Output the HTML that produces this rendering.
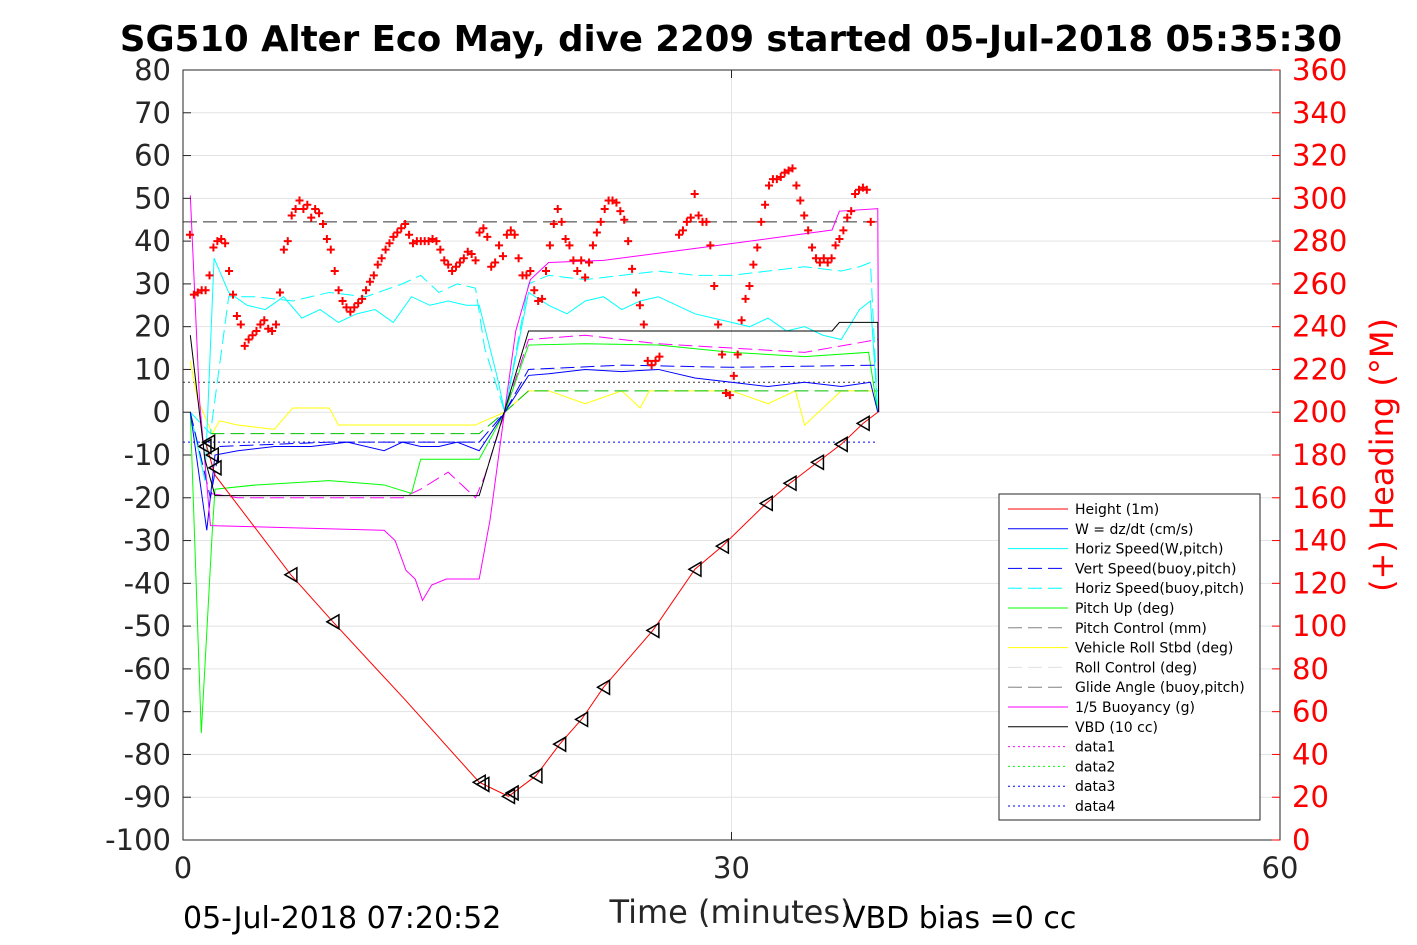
<!DOCTYPE html>
<html><head><meta charset="utf-8">
<style>
html,body{margin:0;padding:0;background:#fff;}
svg{display:block;font-family:"Liberation Sans","DejaVu Sans",sans-serif;}
</style></head>
<body>
<svg id="chart" width="1417" height="945" viewBox="0 0 1417 945" xmlns="http://www.w3.org/2000/svg">
<text x="731" y="51" text-anchor="middle" font-size="35.5" font-weight="bold" font-family="DejaVu Sans, sans-serif">SG510 Alter Eco May, dive 2209 started 05-Jul-2018 05:35:30</text>
<g id="grid"></g>
<g id="series"></g>
<rect x="183" y="70" width="1097" height="770" fill="none" stroke="#262626" stroke-width="1"/>
<g id="axes"></g>
<text x="731" y="923" text-anchor="middle" font-size="32" fill="#262626" font-family="DejaVu Sans, sans-serif">Time (minutes)</text>
<text x="183" y="928" font-size="30" fill="#000" font-family="DejaVu Sans, sans-serif">05-Jul-2018 07:20:52</text>
<text x="845" y="928" font-size="30" fill="#000" font-family="DejaVu Sans, sans-serif">VBD bias =0 cc</text>
<text transform="translate(1393,455) rotate(-90)" text-anchor="middle" font-size="32" fill="#ff0000" font-family="DejaVu Sans, sans-serif">(+) Heading (°M)</text>
<g id="legend"></g>
</svg>
<script>
// ---- data ----
const xTicks = [0, 30, 60];
const yTicks = [80,70,60,50,40,30,20,10,0,-10,-20,-30,-40,-50,-60,-70,-80,-90,-100];
const rTicks = [0,20,40,60,80,100,120,140,160,180,200,220,240,260,280,300,320,340,360];

const heightT = [1.2,1.75,5.9,8.2,12.1,16.2,17.8,19.3,20.6,21.8,23,25.7,28,29.5,31.9,33.2,34.7,36,37.2,38];
const heightV = [-6.5,-14.7,-38,-49,-67,-86.5,-89.8,-85,-77.6,-71.8,-64.3,-51,-36.7,-31.3,-21.3,-16.6,-11.7,-7.5,-2.6,0];
const markT = [1.2,1.4,1.6,1.75,5.9,8.2,16.2,16.4,17.8,18.0,19.3,20.6,21.8,23,25.7,28,29.5,31.9,33.2,34.7,36,37.2];
const markV = [-8,-7,-10,-13,-38,-49,-86.5,-87,-89.8,-89,-85,-77.6,-71.8,-64.3,-51,-36.7,-31.3,-21.3,-16.6,-11.7,-7.5,-2.6];

const headStart = 0.38, headStep = 0.214;
const headingV = [283,255,256,257,257,264,277,280,281,279,266,255,245,241,231,234,236,238,241,243,239,238,241,256,276,280,292,295,299,295,297,291,295,293,288,281,276,266,257,252,249,247,249,251,253,257,261,264,269,272,276,279,282,284,286,288,283,279,280,280,280,280,281,280,276,271,269,266,268,270,272,275,274,271,284,286,282,268,270,278,273,283,285,283,272,264,264,266,257,252,253,266,278,288,295,289,281,278,271,266,271,263,270,278,284,289,295,299,299,298,294,290,280,267,256,250,241,224,222,224,226,null,null,null,null,283,285,289,291,302,292,289,289,278,259,241,227,209,208,217,227,243,253,259,269,277,289,297,306,309,309,310,312,313,314,306,299,292,285,277,272,270,272,270,272,278,281,285,291,294,302,304,305,304,289];

const buoyT = [0.4,0.9,1.5,11,11.6,12.2,12.7,13.1,13.6,14.4,16.2,16.8,17.6,18.2,19,20,23,28.4,35.5,35.9,38,38.05];
const buoyV = [50.7,3,-26.5,-27.6,-30,-37,-39,-44,-40.4,-39,-39,-25,0.5,19,31,35,35.5,38.5,42.6,47,47.6,0];

const vbdT = [0.4,1.2,1.75,16.2,18.9,35.5,35.9,38,38.05];
const vbdV = [18,-11,-19.5,-19.5,19,19,21,21,0];

const hspdT = [0.4,1.2,1.7,2.5,3.5,4.5,5.5,6.5,7.5,8.5,9.5,10.5,11.5,12.5,13.5,14.5,15.5,16.2,17.2,17.6,18.9,20,21,22,23,24,25,26,27,28,29,30,31,32,33,34,35,36,37,37.6,38];
const hspdV = [0,-16,36,28,25,24,27,22,24,21,23,24,21,27,25,26,25,25,8,0,28,25,23,26,27,24,26,27,25,23,22,21,20,22,19,20,18,17,24,26,0];

const hspdBT = [0.4,1.5,2.5,4,6,8,10,12,13,14,15,16,16.5,17.6,18.9,20,22,24,26,28,30,32,34,36,37,37.6,38];
const hspdBV = [0,-5,27,27,26,28,27,30,32,28,30,29,15,0,30,32,31,32,33,32,32,33,34,33,34,35,0];

const wT = [0.4,1.3,1.75,3,5,7,9,11,12,13,14,15,16.2,17.6,18.9,20,22,24,26,28,30,32,34,36,37.6,38];
const wV = [0,-27.6,-10,-9,-8,-8,-7,-9,-7,-8,-8,-7,-9,0,8.6,9,10,9.5,10,8,7,6,7,6,7,0];

const wBT = [0.4,1.5,2,8,14,16.2,17.6,18.9,24,30,38];
const wBV = [0,-20,-8,-7,-7,-7,0,10,11,10.5,11];

const pitchT = [0.4,1,1.6,1.75,4,8,11,12.5,13,15,16.2,17.6,18.9,22,26,30,34,37.5,38];
const pitchV = [0,-75,-28,-18,-17,-16,-17,-19,-11,-11,-11,0,15.7,16,15.7,14,13,14,0];

const pitchCT = [1.5,16.2,17.6,18.9,38];
const pitchCV = [-5,-5,0,5,5];

const pcMagT = [1.5,3,5,8,12,13,14.5,16,16.5,17.6,18.9,22,26,30,34,38];
const pcMagV = [-19,-20,-20,-20,-20,-18,-14,-20,-15,0,17,18,16,15,14,17];

const rollT = [0.4,0.8,1.6,2,3,5,6,8,8.5,10,14,16,16.5,17.6,18.9,20,22,24,25,25.5,28,30,32,33.5,34,36,38];
const rollV = [12,3,-5,-2,-3,-4,1,1,-3,-3,-3,-3,-2,0,5,5,2,5,1,5,5,5,2,5,-3,5,5];

const legendLabels = ["Height (1m)","W = dz/dt (cm/s)","Horiz Speed(W,pitch)","Vert Speed(buoy,pitch)","Horiz Speed(buoy,pitch)","Pitch Up (deg)","Pitch Control (mm)","Vehicle Roll Stbd (deg)","Roll Control (deg)","Glide Angle (buoy,pitch)","1/5 Buoyancy (g)","VBD (10 cc)","data1","data2","data3","data4"];
const legendColors = ["#ff0000","#0000ff","#00ffff","#0000ff","#00ffff","#00ff00","#808080","#ffff00","#e0e0e0","#808080","#ff00ff","#000000","#ff00ff","#00ff00","#0000ff","#0000ff"];
const legendDash = ["","","","14,6","14,6","","14,6","","14,6","14,6","","","2,3","2,3","2,3","2,3"];

// ---- axes functions ----
const X0=183, X1=1280, Y0=70, Y1=840;
const sx = t => X0 + (t-0)/(60-0)*(X1-X0);
const sy = v => Y1 - (v+100)/180*(Y1-Y0);
const sr = h => Y1 - h/360*(Y1-Y0);
const NS="http://www.w3.org/2000/svg";
function mk(tag, attrs, parent){const e=document.createElementNS(NS,tag);for(const k in attrs)e.setAttribute(k,attrs[k]);parent.appendChild(e);return e;}
const G=document.getElementById('grid'), S=document.getElementById('series'), A=document.getElementById('axes'), L=document.getElementById('legend');

yTicks.forEach(v=>{const l=mk('line',{x1:X0,x2:X1,y1:sy(v),y2:sy(v),stroke:'#e3e3e3','stroke-width':1},G);


const t=mk('text',{x:X0-12,y:sy(v)+10,'text-anchor':'end','font-size':29,fill:'#262626','font-family':'DejaVu Sans, sans-serif'},A);t.textContent=v;


mk('line',{x1:X0,x2:X0+8,y1:sy(v),y2:sy(v),stroke:'#262626'},A);});
xTicks.forEach(v=>{const l=mk('line',{y1:Y0,y2:Y1,x1:sx(v),x2:sx(v),stroke:'#e3e3e3','stroke-width':1},G);


const t=mk('text',{x:sx(v),y:878,'text-anchor':'middle','font-size':29,fill:'#262626','font-family':'DejaVu Sans, sans-serif'},A);t.textContent=v;


mk('line',{x1:sx(v),x2:sx(v),y1:Y1,y2:Y1-8,stroke:'#262626'},A);mk('line',{x1:sx(v),x2:sx(v),y1:Y0,y2:Y0+8,stroke:'#262626'},A);});
rTicks.forEach(v=>{const t=mk('text',{x:X1+12,y:sr(v)+10,'font-size':29,fill:'#ff0000','font-family':'DejaVu Sans, sans-serif'},A);t.textContent=v;


mk('line',{x1:X1,x2:X1-8,y1:sr(v),y2:sr(v),stroke:'#ff0000'},A);});

function line(T,V,color,dash,name,w){const p=mk('polyline',{points:T.map((t,i)=>sx(t)+','+sy(V[i])).join(' '),fill:'none',stroke:color,'stroke-width':w||1,'stroke-dasharray':dash||'none'},S);

}
function hline(v,t0,t1,color,dash,name){line([t0,t1],[v,v],color,dash,name);}

hline(44.5,0,38,'#333','14,6','glide-angle-line');
hline(7,0,38,'#333','2,3','data1-line');
hline(-7,0,38,'#0000ff','2,3','data4-line');
line(rollT,rollV,'#ffff00','','roll-line');
line(pitchCT,pitchCV,'#00c000','14,6','pitch-control-line');
line(pcMagT,pcMagV,'#ff00ff','14,6','pitch-magenta-line');
line(hspdT,hspdV,'#00ffff','','horiz-speed-line');
line(hspdBT,hspdBV,'#00ffff','14,6','horiz-speed-buoy-line');
line(pitchT,pitchV,'#00ff00','','pitch-line');
line(wBT,wBV,'#0000ff','14,6','vert-speed-buoy-line');
line(wT,wV,'#0000ff','','w-line');
line(buoyT,buoyV,'#ff00ff','','buoyancy-line');
line(vbdT,vbdV,'#000000','','vbd-line');
line(heightT,heightV,'#ff0000','','height-line');

markT.forEach((t,i)=>{const x=sx(t),y=sy(markV[i]);
const m=mk('polygon',{points:`${x-6},${y} ${x+6},${y-7} ${x+6},${y+7}`,fill:'none',stroke:'#000','stroke-width':1.5},S);

});

headingV.forEach((h,i)=>{if(h===null)return;const x=sx(headStart+i*headStep),y=sr(h);
const m=mk('path',{d:`M${x-4},${y}H${x+4}M${x},${y-4}V${y+4}`,stroke:'#ff0000','stroke-width':2},S);

});

// legend
const lb=mk('rect',{x:999,y:494,width:261,height:326,fill:'#fff',stroke:'#262626'},L);


legendLabels.forEach((lab,i)=>{const y=509+i*19.8;
const g=mk('g',{},L);


mk('line',{x1:1008,x2:1068,y1:y,y2:y,stroke:legendColors[i],'stroke-dasharray':legendDash[i]||'none'},g);
const t=mk('text',{x:1075,y:y+5,'font-size':14,fill:'#000','font-family':'DejaVu Sans, sans-serif'},g);t.textContent=lab;});
</script>
</body></html>
